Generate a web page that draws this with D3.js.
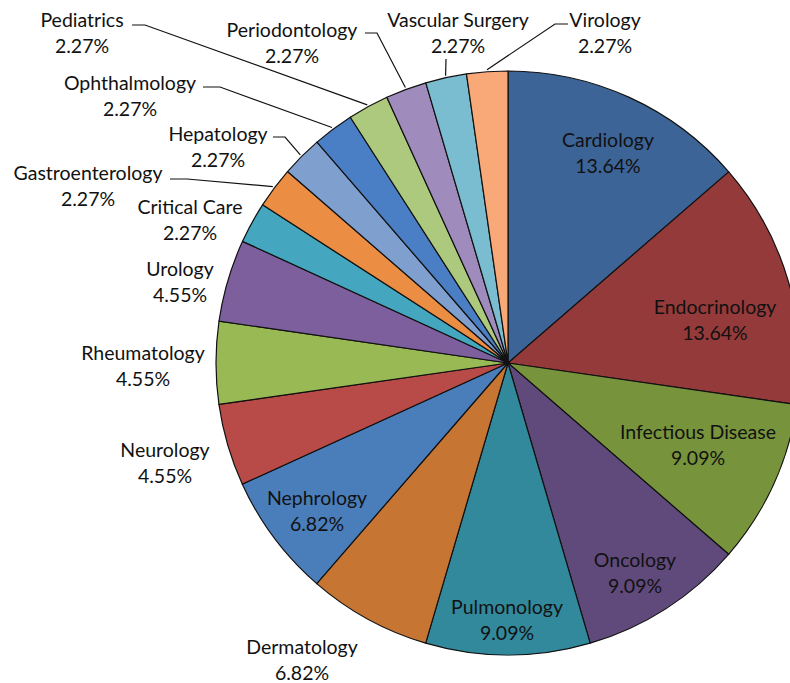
<!DOCTYPE html>
<html lang="en">
<head>
<meta charset="UTF-8">
<title>Specialties</title>
<script src="https://d3js.org/d3.v7.min.js"></script>
<style>
  body { margin: 0; background: #fff; }
  svg { display: block; }
  .lbl { font-family: Lato, 'Open Sans', sans-serif; font-size: 19.5px; fill: #111; }
</style>
</head>
<body>
<svg id="chart" width="790" height="683"></svg>
<script>
  // data
  const specialties = ['Cardiology', 'Endocrinology', 'Infectious Disease', 'Oncology', 'Pulmonology',
    'Dermatology', 'Nephrology', 'Neurology', 'Rheumatology', 'Urology', 'Critical Care',
    'Gastroenterology', 'Hepatology', 'Ophthalmology', 'Pediatrics', 'Periodontology',
    'Vascular Surgery', 'Virology'];
  const shares = [13.64, 13.64, 9.09, 9.09, 9.09, 6.82, 6.82, 4.55, 4.55, 4.55,
    2.27, 2.27, 2.27, 2.27, 2.27, 2.27, 2.27, 2.27];

  const colors = ['#3c6497', '#953a3a', '#77933c', '#604a7b', '#33899c', '#c77533',
    '#4a7ebb', '#b84b48', '#98b954', '#7d5f9e', '#45a7bf', '#eb8d43',
    '#7f9fcf', '#4a7fc6', '#acc97e', '#9f8cbd', '#7abcd0', '#f9a977'];

  // label layout (text centre of first line) and leader elbows
  const labelAt = {
    'Cardiology': [608, 140], 'Endocrinology': [715, 307], 'Infectious Disease': [698, 432],
    'Oncology': [635, 560], 'Pulmonology': [507, 607], 'Nephrology': [317, 498],
    'Dermatology': [302, 647], 'Neurology': [165, 450], 'Rheumatology': [143, 353],
    'Urology': [180, 269], 'Critical Care': [190, 207], 'Gastroenterology': [88, 173],
    'Hepatology': [218, 134], 'Ophthalmology': [130, 83], 'Pediatrics': [82, 20],
    'Periodontology': [292, 30], 'Vascular Surgery': [458, 20], 'Virology': [605, 20]
  };
  const leaders = {
    'Pediatrics': [[132, 25], [145, 25]],
    'Ophthalmology': [[203, 87], [220, 87]],
    'Hepatology': [[273, 137], [285, 137]],
    'Gastroenterology': [[170, 179], [187, 179]],
    'Periodontology': [[365, 33], [377, 33]],
    'Vascular Surgery': [[446, 59]],
    'Virology': [[568, 24], [555, 24]]
  };

  const svg = d3.select('#chart');
  const cx = 508, cy = 363, r = 292;
  const g = svg.append('g').attr('transform', `translate(${cx},${cy})`);

  const data = specialties.map((name, i) => ({ name, value: shares[i], color: colors[i] }));
  const pie = d3.pie().value(d => d.value).sort(null);
  const arc = d3.arc().innerRadius(0).outerRadius(r);
  const arcs = pie(data);

  g.selectAll('path.slice')
    .data(arcs)
    .join('path')
    .attr('class', 'slice')
    .attr('d', arc)
    .attr('fill', d => d.data.color)
    .attr('stroke', '#111')
    .attr('stroke-width', 1.2)
    .attr('stroke-linejoin', 'round');

  // leader lines
  arcs.forEach(a => {
    const pts = leaders[a.data.name];
    if (!pts) return;
    const mid = (a.startAngle + a.endAngle) / 2;
    const end = [cx + (r + 2) * Math.sin(mid), cy - (r + 2) * Math.cos(mid)];
    svg.append('path')
      .attr('d', d3.line()([...pts, end]))
      .attr('fill', 'none')
      .attr('stroke', '#111')
      .attr('stroke-width', 1.2);
  });

  // labels
  arcs.forEach(a => {
    const [x, y] = labelAt[a.data.name];
    const t = svg.append('text')
      .attr('class', 'lbl')
      .attr('text-anchor', 'middle')
      .attr('x', x)
      .attr('y', y);
    t.append('tspan').attr('x', x).attr('dy', '0.35em').text(a.data.name);
    t.append('tspan').attr('x', x).attr('dy', 26).text(a.data.value.toFixed(2) + '%');
  });
</script>
</body>
</html>
